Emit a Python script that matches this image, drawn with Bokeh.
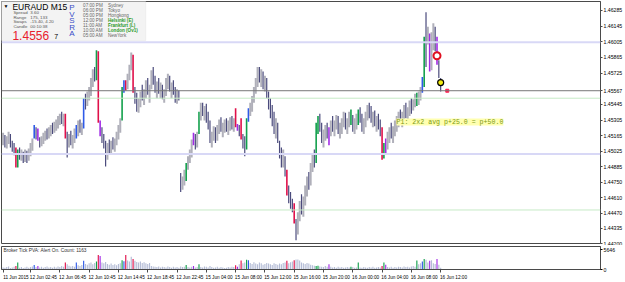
from bokeh.plotting import figure
from bokeh.models import (Range1d, LinearAxis, FixedTicker, Span, Label,
                          BoxAnnotation, ColumnDataSource, NumeralTickFormatter)
from bokeh.layouts import column
from bokeh.embed import file_html
from bokeh.resources import INLINE

# ---------------- data (EURAUD M15) ----------------
bar_high = [
 1.4519, 1.4517, 1.4516, 1.4520, 1.4518, 1.4512, 1.4510, 1.4506, 1.4504, 1.4506,
 1.4504, 1.4502, 1.4504, 1.4503, 1.4505, 1.4510, 1.4514, 1.4526, 1.4524, 1.4523,
 1.4515, 1.4516, 1.4519, 1.4521, 1.4523, 1.4524, 1.4526, 1.4528, 1.4529, 1.4531,
 1.4534, 1.4536, 1.4538, 1.4536, 1.4536, 1.4520, 1.4518, 1.4521, 1.4517, 1.4523,
 1.4526, 1.4530, 1.4531, 1.4528, 1.4550, 1.4554, 1.4556, 1.4560, 1.4568, 1.4576,
 1.4578, 1.4593, 1.4592, 1.4530, 1.4524, 1.4518, 1.4512, 1.4510, 1.4513, 1.4512,
 1.4515, 1.4514, 1.4520, 1.4526, 1.4532, 1.4560, 1.4566, 1.4566, 1.4572, 1.4580,
 1.4591, 1.4589, 1.4560, 1.4555, 1.4550, 1.4556, 1.4562, 1.4558, 1.4566, 1.4568,
 1.4562, 1.4575, 1.4578, 1.4570, 1.4565, 1.4568, 1.4564, 1.4562, 1.4558, 1.4568,
 1.4572, 1.4570, 1.4564, 1.4566, 1.4560, 1.4558, 1.4557, 1.4483, 1.4480, 1.4486,
 1.4492, 1.4498, 1.4504, 1.4513, 1.4519, 1.4518, 1.4520, 1.4538, 1.4546, 1.4546,
 1.4543, 1.4545, 1.4538, 1.4530, 1.4520, 1.4525, 1.4524, 1.4526, 1.4531, 1.4533,
 1.4528, 1.4531, 1.4532, 1.4530, 1.4533, 1.4534, 1.4532, 1.4541, 1.4527, 1.4526,
 1.4532, 1.4518, 1.4516, 1.4532, 1.4541, 1.4546, 1.4552, 1.4560, 1.4568, 1.4578,
 1.4578, 1.4576, 1.4574, 1.4570, 1.4568, 1.4556, 1.4550, 1.4544, 1.4538, 1.4532,
 1.4528, 1.4512, 1.4506, 1.4504, 1.4498, 1.4486, 1.4472, 1.4466, 1.4460, 1.4456,
 1.4442, 1.4448, 1.4458, 1.4464, 1.4462, 1.4472, 1.4480, 1.4484, 1.4492, 1.4500,
 1.4504, 1.4528, 1.4534, 1.4536, 1.4528, 1.4522, 1.4526, 1.4528, 1.4524, 1.4530,
 1.4534, 1.4530, 1.4535, 1.4534, 1.4528, 1.4532, 1.4538, 1.4537, 1.4532, 1.4538,
 1.4540, 1.4535, 1.4532, 1.4536, 1.4540, 1.4542, 1.4536, 1.4532, 1.4538, 1.4544,
 1.4546, 1.4543, 1.4538, 1.4539, 1.4534, 1.4536, 1.4531, 1.4524, 1.4510, 1.4514,
 1.4520, 1.4524, 1.4528, 1.4525, 1.4530, 1.4534, 1.4538, 1.4540, 1.4538, 1.4544,
 1.4546, 1.4542, 1.4548, 1.4550, 1.4549, 1.4554, 1.4555, 1.4556, 1.4560, 1.4569,
 1.4605, 1.4627, 1.4614, 1.4608, 1.4609, 1.4617, 1.4614, 1.4605, 1.4584, 1.4568]

bar_low = [
 1.4508, 1.4506, 1.4505, 1.4509, 1.4506, 1.4502, 1.4499, 1.4488, 1.4488, 1.4495,
 1.4494, 1.4492, 1.4493, 1.4492, 1.4494, 1.4498, 1.4503, 1.4514, 1.4513, 1.4512,
 1.4506, 1.4507, 1.4509, 1.4512, 1.4513, 1.4514, 1.4516, 1.4518, 1.4519, 1.4521,
 1.4523, 1.4526, 1.4527, 1.4525, 1.4514, 1.4497, 1.4506, 1.4508, 1.4505, 1.4510,
 1.4514, 1.4516, 1.4519, 1.4517, 1.4523, 1.4540, 1.4543, 1.4548, 1.4552, 1.4560,
 1.4565, 1.4566, 1.4528, 1.4516, 1.4510, 1.4505, 1.4489, 1.4495, 1.4500, 1.4501,
 1.4504, 1.4502, 1.4508, 1.4513, 1.4519, 1.4530, 1.4555, 1.4557, 1.4558, 1.4566,
 1.4575, 1.4555, 1.4545, 1.4538, 1.4537, 1.4542, 1.4548, 1.4544, 1.4550, 1.4553,
 1.4546, 1.4558, 1.4562, 1.4555, 1.4550, 1.4554, 1.4550, 1.4549, 1.4546, 1.4552,
 1.4558, 1.4556, 1.4550, 1.4553, 1.4546, 1.4545, 1.4548, 1.4466, 1.4468, 1.4472,
 1.4476, 1.4486, 1.4492, 1.4497, 1.4508, 1.4504, 1.4506, 1.4518, 1.4530, 1.4534,
 1.4530, 1.4528, 1.4522, 1.4510, 1.4506, 1.4512, 1.4510, 1.4512, 1.4518, 1.4520,
 1.4515, 1.4519, 1.4520, 1.4517, 1.4521, 1.4522, 1.4520, 1.4524, 1.4521, 1.4516,
 1.4513, 1.4505, 1.4498, 1.4504, 1.4529, 1.4534, 1.4538, 1.4546, 1.4554, 1.4560,
 1.4564, 1.4560, 1.4558, 1.4556, 1.4550, 1.4540, 1.4532, 1.4525, 1.4518, 1.4514,
 1.4510, 1.4496, 1.4488, 1.4488, 1.4480, 1.4463, 1.4456, 1.4451, 1.4448, 1.4438,
 1.4423, 1.4428, 1.4440, 1.4446, 1.4444, 1.4454, 1.4462, 1.4468, 1.4472, 1.4484,
 1.4488, 1.4492, 1.4518, 1.4520, 1.4510, 1.4506, 1.4512, 1.4514, 1.4508, 1.4516,
 1.4520, 1.4516, 1.4522, 1.4518, 1.4514, 1.4518, 1.4524, 1.4522, 1.4518, 1.4524,
 1.4526, 1.4520, 1.4518, 1.4522, 1.4526, 1.4528, 1.4520, 1.4518, 1.4524, 1.4530,
 1.4532, 1.4528, 1.4524, 1.4525, 1.4520, 1.4522, 1.4516, 1.4495, 1.4496, 1.4500,
 1.4504, 1.4510, 1.4514, 1.4510, 1.4516, 1.4520, 1.4524, 1.4526, 1.4524, 1.4530,
 1.4532, 1.4528, 1.4534, 1.4536, 1.4539, 1.4542, 1.4543, 1.4544, 1.4548, 1.4555,
 1.4560, 1.4578, 1.4598, 1.4574, 1.4575, 1.4593, 1.4592, 1.4580, 1.4568, 1.4556]

bar_close = [
 1.4512, 1.4510, 1.4513, 1.4515, 1.4508, 1.4505, 1.4502, 1.4489, 1.4502, 1.4498,
 1.4501, 1.4496, 1.4500, 1.4497, 1.4502, 1.4507, 1.4512, 1.4524, 1.4516, 1.4514,
 1.4509, 1.4513, 1.4517, 1.4518, 1.4516, 1.4521, 1.4523, 1.4521, 1.4526, 1.4528,
 1.4530, 1.4533, 1.4531, 1.4534, 1.4516, 1.4510, 1.4514, 1.4511, 1.4513, 1.4520,
 1.4518, 1.4526, 1.4522, 1.4525, 1.4548, 1.4546, 1.4552, 1.4557, 1.4565, 1.4572,
 1.4570, 1.4590, 1.4530, 1.4520, 1.4512, 1.4508, 1.4500, 1.4505, 1.4503, 1.4509,
 1.4506, 1.4511, 1.4517, 1.4523, 1.4529, 1.4558, 1.4563, 1.4559, 1.4570, 1.4578,
 1.4588, 1.4557, 1.4550, 1.4543, 1.4546, 1.4553, 1.4551, 1.4555, 1.4562, 1.4556,
 1.4560, 1.4572, 1.4565, 1.4558, 1.4562, 1.4556, 1.4560, 1.4552, 1.4555, 1.4565,
 1.4568, 1.4559, 1.4561, 1.4556, 1.4550, 1.4553, 1.4551, 1.4472, 1.4477, 1.4482,
 1.4490, 1.4495, 1.4500, 1.4510, 1.4512, 1.4508, 1.4517, 1.4536, 1.4542, 1.4537,
 1.4540, 1.4531, 1.4527, 1.4514, 1.4516, 1.4521, 1.4514, 1.4522, 1.4528, 1.4524,
 1.4525, 1.4528, 1.4523, 1.4527, 1.4530, 1.4526, 1.4529, 1.4526, 1.4523, 1.4520,
 1.4515, 1.4510, 1.4508, 1.4530, 1.4539, 1.4543, 1.4549, 1.4557, 1.4565, 1.4574,
 1.4568, 1.4572, 1.4562, 1.4566, 1.4553, 1.4543, 1.4537, 1.4530, 1.4522, 1.4525,
 1.4513, 1.4500, 1.4492, 1.4497, 1.4484, 1.4465, 1.4462, 1.4455, 1.4452, 1.4440,
 1.4430, 1.4444, 1.4452, 1.4450, 1.4458, 1.4468, 1.4475, 1.4472, 1.4488, 1.4496,
 1.4492, 1.4525, 1.4531, 1.4524, 1.4515, 1.4518, 1.4522, 1.4517, 1.4520, 1.4527,
 1.4524, 1.4528, 1.4531, 1.4522, 1.4525, 1.4529, 1.4533, 1.4526, 1.4529, 1.4534,
 1.4530, 1.4524, 1.4528, 1.4533, 1.4536, 1.4531, 1.4527, 1.4529, 1.4535, 1.4540,
 1.4537, 1.4532, 1.4534, 1.4528, 1.4531, 1.4526, 1.4522, 1.4498, 1.4504, 1.4510,
 1.4516, 1.4521, 1.4518, 1.4522, 1.4527, 1.4530, 1.4534, 1.4531, 1.4535, 1.4540,
 1.4537, 1.4539, 1.4544, 1.4540, 1.4546, 1.4551, 1.4548, 1.4553, 1.4557, 1.4567,
 1.4602, 1.4600, 1.4606, 1.4578, 1.4600, 1.4612, 1.4596, 1.4584, 1.4572, 1.45567]

tick_volume = [
 600, 500, 700, 900, 400, 600, 800, 1000, 2000,
 500, 700, 400, 600, 800, 500, 700, 900, 1300, 700, 1000,
 600, 800, 500, 700, 900, 600, 700, 500, 800, 600, 900, 700, 1000, 800,
 2000, 1500, 1100, 900, 1000, 800, 2000, 1200, 1000, 1300, 2500,
 1600, 1400, 1800, 2000, 1500, 1900, 2300, 4200, 3900,
 2000, 1800, 2200, 1600, 1400, 1700, 1300, 1500, 1200, 1600, 1800,
 2700, 2400, 4200, 2600, 2300, 3700, 3000,
 2500, 2200, 2000, 2300, 1900, 2100, 1800, 1600, 1900,
 1000, 900, 800, 700, 900, 600, 800, 700, 600, 900, 700, 500, 800, 600, 700, 500,
 900, 700, 800, 1300, 700, 600, 800, 1000, 600, 700, 1500,
 700, 600, 900, 800, 600, 1000, 700, 500, 600, 800, 500, 700, 600, 400, 500, 700, 600, 800, 700,
 1200, 800, 1500, 2600, 1800, 2000, 2800, 2700,
 1900, 1600, 2100, 1700, 1500, 2000, 1800, 1400, 1600, 1900,
 1700, 1500, 1300, 1800, 1600, 1400, 1700, 1500, 1900, 2000,
 2500, 1800, 2100, 2300, 2700, 2900,
 2900, 2600, 2000, 1800, 1600, 1900, 1700, 1400, 1200, 1100,
 1000, 1100, 900, 800, 700, 1000, 800, 1500,
 800, 600, 700, 500, 800, 600, 700, 500, 600, 700, 600, 800, 700, 500, 600, 2000,
 600, 500, 700, 600, 500, 700, 600, 800, 500, 600, 700, 600, 1000, 2000, 1400,
 700, 600, 800, 500, 700, 600, 800, 700, 600, 900, 700, 800, 600, 900, 1000, 800,
 2600, 1500, 1800, 2300, 3000, 2800, 2000, 2500, 2700, 1800, 1600, 3000, 1400, 500]

# PVSRA candle classes: r = climax bear, g = climax bull, b = rising bull, v = rising bear
pvsra_class = {7: "r", 8: "g", 17: "b", 19: "v", 34: "r", 40: "b", 44: "b", 51: "g",
               52: "r", 53: "v", 65: "g", 66: "b", 67: "r", 71: "r", 100: "g", 104: "v",
               107: "g", 127: "r", 128: "v", 130: "r", 133: "g", 134: "b", 155: "r",
               159: "r", 171: "g", 172: "g", 178: "v", 190: "g", 194: "g", 207: "r",
               208: "g", 209: "v", 226: "g", 229: "b", 230: "g", 233: "v", 237: "v"}

time_tick_index = [0, 15, 31, 47, 63, 79, 95, 111, 127, 143, 159, 175, 191, 207, 223, 239]
time_tick_labels = ["11 Jun 2015", "12 Jun 02:45", "12 Jun 06:45", "12 Jun 10:45",
                    "12 Jun 14:45", "12 Jun 18:45", "12 Jun 22:45", "15 Jun 04:00",
                    "15 Jun 08:00", "15 Jun 12:00", "15 Jun 16:00", "15 Jun 20:00",
                    "16 Jun 00:00", "16 Jun 04:00", "16 Jun 08:00", "16 Jun 12:00"]
# scale labels (1.45585 is hidden by the bid tag in the terminal)
price_ticks = [1.46285, 1.46145, 1.46005, 1.45865, 1.45725, 1.45445, 1.45305,
               1.45165, 1.45025, 1.44885, 1.44750, 1.44610, 1.44470, 1.44335, 1.44200]
round_levels = [1.4600, 1.4500]
half_levels = [1.4550, 1.4450]
last_price = 1.45567
volume_max = 5646
signal_index = [237, 239]
signal_price = [1.4588, 1.4564]
alert_index = [242.6]
alert_price = [1.45567]

session_times = ["07:00 PM", "06:00 PM", "05:00 PM", "12:00 PM", "11:00 AM", "10:00 AM", "05:00 AM"]
session_names = ["Sydney", "Tokyo", "Hongkong", "Helsinki (E)", "Frankfurt (L)", "London (Ov1)", "NewYork"]
session_open = [False, False, False, True, True, True, False]
stat_names = ["Spread", "Range", "Swaps", "Candle"]
stat_values = ["3.60", "175, 133", "-15.40, 4.20", "00:10:38"]

# ---------------- layout helpers ----------------
W = 625
PX_PER_BAR = 1.84
X_START = -(2.6 - 1) / PX_PER_BAR
FRAME_W = 602
X_END = X_START + FRAME_W / PX_PER_BAR
Y_BOT = 1.44200
Y_TOP = 1.44200 + 242 * 0.00008948
FONT = "Liberation Sans"

def dx(px):
    return X_START + (px - 1) / PX_PER_BAR

def dy(py):
    return Y_TOP - (py - 1) * (Y_TOP - Y_BOT) / 242

xr = Range1d(X_START, X_END)

colors = {"r": "#e0104a", "g": "#12a04c", "b": "#2f5ae8", "v": "#a12be6"}

n = len(bar_close)
assert len(bar_high) == n and len(bar_low) == n and len(tick_volume) == n

idx = list(range(n))
bar_col, bar_w, vol_col = [], [], []
for i in idx:
    prev = bar_close[i - 1] if i > 0 else bar_close[i]
    c = pvsra_class.get(i)
    if c:
        bar_col.append(colors[c]); bar_w.append(1.6); vol_col.append(colors[c])
    elif bar_close[i] >= prev:
        bar_col.append("#b0b0ba"); bar_w.append(2.0); vol_col.append("#b4bcd6")
    else:
        bar_col.append("#4a4a7c"); bar_w.append(1.2); vol_col.append("#b4bcd6")

src = ColumnDataSource(dict(x=idx, hi=bar_high, lo=bar_low, col=bar_col, w=bar_w,
                            vol=tick_volume, vcol=vol_col))

# ---------------- main price panel ----------------
p = figure(width=W, height=245, output_backend="svg", toolbar_location=None,
           x_range=xr, y_range=Range1d(Y_BOT, Y_TOP),
           x_axis_location=None, y_axis_location=None,
           min_border_left=1, min_border_top=1, min_border_bottom=2, min_border_right=22)
p.grid.visible = False
p.outline_line_color = "#4a4a4a"
p.background_fill_color = "white"

yax = LinearAxis(ticker=FixedTicker(ticks=price_ticks + [last_price]),
                 formatter=NumeralTickFormatter(format="0.00000"))
yax.major_label_text_font = FONT
yax.major_label_text_font_size = "5.2px"
yax.major_label_text_color = "black"
yax.major_tick_out = 2
yax.major_tick_in = 0
yax.major_label_standoff = 1
yax.minor_tick_out = 0
yax.minor_tick_in = 0
yax.axis_line_color = "#4a4a4a"
yax.major_tick_line_color = "#4a4a4a"
p.add_layout(yax, "right")

for loc in round_levels:
    p.add_layout(Span(location=loc, dimension="width", line_color="#d8d8f6", line_width=2))
for loc in half_levels:
    p.add_layout(Span(location=loc, dimension="width", line_color="#c6eac6", line_width=1))
p.add_layout(Span(location=last_price, dimension="width", line_color="#777777", line_width=1))

p.segment(x0="x", y0="lo", x1="x", y1="hi", line_color="col", line_width="w", source=src)

p.scatter(x=signal_index[:1], y=signal_price[:1], marker="circle", size=7,
          fill_color="white", line_color="#e01020", line_width=2)
p.scatter(x=signal_index[1:], y=signal_price[1:], marker="circle", size=6,
          fill_color="#f4ec10", line_color="black", line_width=1.2)
p.scatter(x=alert_index, y=alert_price, marker="square", size=3,
          fill_color="#ff2050", line_color="#ff2050")

p.add_layout(Label(x=dx(398), y=dy(121.5), text="P1: 2x2 avg p+25.0 = p+50.0",
                   text_font="Liberation Mono", text_font_size="6.6px",
                   text_color="#7d9a12", text_baseline="middle",
                   background_fill_color="#ffffb0", background_fill_alpha=1))

# info panel
p.add_layout(BoxAnnotation(left=dx(0), right=dx(146), top=dy(0), bottom=dy(40),
                           fill_color="#f3f3f3", fill_alpha=1,
                           line_color="#dcdcdc", line_width=1))
p.add_layout(Label(x=dx(3), y=dy(5), text="\u25bc", text_font_size="5px",
                   text_color="black", text_baseline="middle"))
p.add_layout(Label(x=dx(12), y=dy(6.5), text="EURAUD   M15", text_font=FONT,
                   text_font_size="8.5px", text_color="black", text_baseline="middle"))
for k, (nm, val) in enumerate(zip(stat_names, stat_values)):
    yy = dy(12 + k * 4.7)
    p.add_layout(Label(x=dx(13), y=yy, text=nm, text_font=FONT, text_font_size="4.4px",
                       text_color="#555555", text_baseline="middle"))
    p.add_layout(Label(x=dx(30), y=yy, text=val, text_font=FONT, text_font_size="4.4px",
                       text_color="#555555", text_baseline="middle"))
p.add_layout(Label(x=dx(12), y=dy(35), text="1.4556", text_font=FONT,
                   text_font_size="12px", text_color="#e8202c", text_baseline="middle"))
p.add_layout(Label(x=dx(54), y=dy(36), text="7", text_font=FONT,
                   text_font_size="7px", text_color="black", text_baseline="middle"))
for k, ch in enumerate("PVSRA"):
    p.add_layout(Label(x=dx(69), y=dy(7 + k * 6.5), text=ch, text_font=FONT,
                       text_font_size="8px", text_color="#3a4ec8", text_baseline="middle"))
for k, (t, nm, op) in enumerate(zip(session_times, session_names, session_open)):
    yy = dy(5 + k * 5)
    p.add_layout(Label(x=dx(83), y=yy, text=t, text_font=FONT, text_font_size="4.6px",
                       text_color="#666666", text_baseline="middle"))
    p.add_layout(Label(x=dx(108), y=yy, text=nm, text_font=FONT, text_font_size="4.6px",
                       text_color="#2a9a2a" if op else "#666666",
                       text_font_style="bold" if op else "normal", text_baseline="middle"))

# current bid price tag on the price scale (drawn if annotations may leave the frame)
p.add_layout(Label(x=dx(605), y=last_price, text="1.45567", text_font=FONT,
                   text_font_size="5.2px", text_color="white", text_baseline="middle",
                   background_fill_color="black", background_fill_alpha=1,
                   level="overlay"))

# ---------------- volume panel ----------------
VTOP = 6650
v = figure(width=W, height=37, output_backend="svg", toolbar_location=None,
           x_range=xr, y_range=Range1d(0, VTOP),
           x_axis_location=None, y_axis_location=None,
           min_border_left=1, min_border_top=1, min_border_bottom=0, min_border_right=22)
v.grid.visible = False
v.outline_line_color = "#4a4a4a"

v.vbar(x="x", top="vol", width=0.62, fill_color="vcol", line_color=None, source=src)

vax = LinearAxis(ticker=FixedTicker(ticks=[0, volume_max]))
vax.major_label_text_font = FONT
vax.major_label_text_font_size = "5.2px"
vax.major_label_text_color = "black"
vax.major_tick_out = 2
vax.major_tick_in = 0
vax.major_label_standoff = 1
vax.minor_tick_out = 0
vax.axis_line_color = "#4a4a4a"
v.add_layout(vax, "right")

shift = 7
xax = LinearAxis(ticker=FixedTicker(ticks=[t + shift for t in time_tick_index],
                                    minor_ticks=time_tick_index),
                 major_label_overrides={t + shift: lab for t, lab in zip(time_tick_index, time_tick_labels)})
xax.major_label_text_font = FONT
xax.major_label_text_font_size = "4.7px"
xax.major_label_text_color = "black"
xax.major_tick_out = 0
xax.major_tick_in = 0
xax.minor_tick_out = 3
xax.minor_tick_in = 0
xax.minor_tick_line_color = "#4a4a4a"
xax.major_label_standoff = 2
xax.axis_line_color = "#4a4a4a"
v.add_layout(xax, "below")

v.add_layout(Label(x=dx(3), y=VTOP * (1 - 4.5 / 26), text="Broker Tick PVA:   Alert On.   Count: 1163",
                   text_font=FONT, text_font_size="4.8px", text_color="#333333",
                   text_baseline="middle"))

layout = column(p, v, spacing=0)
open("out.html", "w").write(file_html(layout, INLINE))
